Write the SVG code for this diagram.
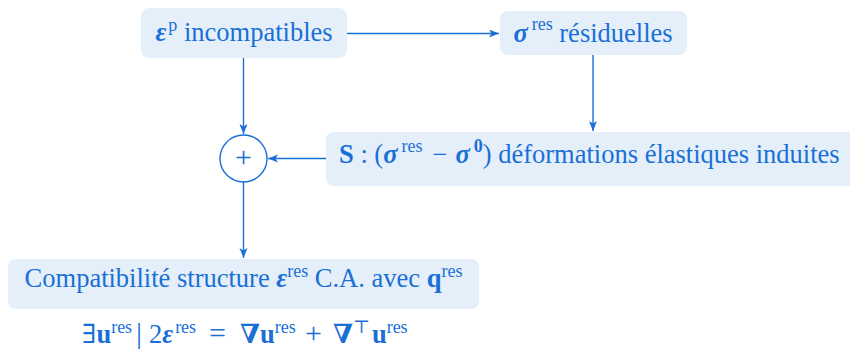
<svg xmlns="http://www.w3.org/2000/svg" width="850" height="358" viewBox="0 0 850 358">
<style>
.box{fill:#e4eff9;stroke:none}
.t{font-family:"Liberation Serif","DejaVu Serif",serif;font-size:26.5px;fill:#1a6fd6}
.bi{font-weight:bold;font-style:italic}
.b{font-weight:bold}
.sup{font-size:18px}
.op{font-size:30px}
.ln{stroke:#1a6fd6;stroke-width:1.4;fill:none}
</style>
<defs>
<marker id="ah" markerUnits="userSpaceOnUse" markerWidth="12" markerHeight="10" refX="10" refY="4" orient="auto">
<path d="M0,0 L10,4 L0,8 L2.5,4 z" fill="#1a6fd6"/>
</marker>
</defs>
<rect width="850" height="358" fill="#ffffff"/>
<g id="connectors">
<line class="ln" x1="347" y1="33.5" x2="499" y2="33.5" marker-end="url(#ah)"/>
<line class="ln" x1="243.5" y1="58" x2="243.5" y2="134" marker-end="url(#ah)"/>
<line class="ln" x1="593" y1="55" x2="593" y2="131" marker-end="url(#ah)"/>
<line class="ln" x1="326" y1="158.5" x2="268" y2="158.5" marker-end="url(#ah)"/>
<line class="ln" x1="243.5" y1="182" x2="243.5" y2="258" marker-end="url(#ah)"/>
</g>
<g id="node-ep">
<rect class="box" x="141" y="8" width="206" height="50" rx="8"/>
<text class="t" x="244" y="41" text-anchor="middle"><tspan class="bi">ε</tspan><tspan class="sup" dx="2" dy="-10">p</tspan><tspan dy="10"> incompatibles</tspan></text>
</g>
<g id="node-sigma">
<rect class="box" x="500" y="11" width="187" height="44" rx="8"/>
<text class="t" x="593" y="42" text-anchor="middle"><tspan class="bi">σ</tspan><tspan class="sup" dx="4" dy="-12">res</tspan><tspan dy="12"> résiduelles</tspan></text>
</g>
<g id="node-plus">
<circle cx="243.5" cy="158.5" r="23.5" fill="#ffffff" stroke="#1a6fd6" stroke-width="1.4"/>
<text class="t" x="243.5" y="166.5" text-anchor="middle" style="font-size:30px">+</text>
</g>
<g id="node-S">
<rect class="box" x="326" y="132" width="540" height="54" rx="8"/>
<text class="t" x="339" y="163"><tspan class="b">S</tspan><tspan> : (</tspan><tspan class="bi">σ</tspan><tspan class="sup" dx="4" dy="-11">res</tspan><tspan dy="11" dx="10">−</tspan><tspan class="bi" dx="8">σ</tspan><tspan class="sup b" dx="4" dy="-11">0</tspan><tspan dy="11">) déformations élastiques induites</tspan></text>
</g>
<g id="node-compat">
<rect class="box" x="8" y="259" width="471" height="50" rx="8"/>
<text class="t" x="243.5" y="287" text-anchor="middle"><tspan>Compatibilité structure </tspan><tspan class="bi">ε</tspan><tspan class="sup" dy="-10">res</tspan><tspan dy="10"> C.A. avec </tspan><tspan class="b">q</tspan><tspan class="sup" dy="-10">res</tspan></text>
</g>
<g id="formula">
<text class="t" y="343"><tspan x="82">∃</tspan><tspan class="b">u</tspan><tspan class="sup" dy="-10">res</tspan><tspan x="136" dy="10" class="op">|</tspan><tspan x="149">2</tspan><tspan class="bi">ε</tspan><tspan class="sup" dx="2" dy="-10">res</tspan><tspan x="209" dy="10" class="op">=</tspan><tspan x="240" class="b">∇</tspan><tspan class="b">u</tspan><tspan class="sup" dy="-10">res</tspan><tspan x="305" dy="10" class="op">+</tspan><tspan x="333" class="b">∇</tspan><tspan class="sup" dy="-10">⊤</tspan><tspan class="b" dx="2" dy="10">u</tspan><tspan class="sup" dy="-10">res</tspan></text>
</g>
</svg>
